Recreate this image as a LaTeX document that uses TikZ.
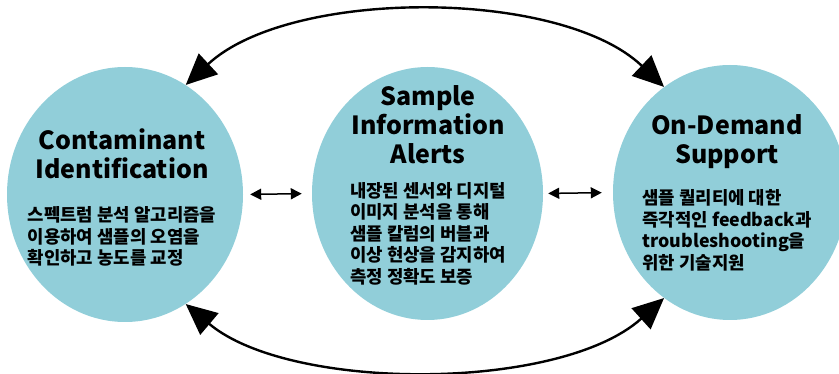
\documentclass[tikz,border=0pt]{standalone}
\usepackage{fontspec}
\setmainfont{Noto Sans CJK KR}
\usetikzlibrary{arrows.meta,positioning,shapes.geometric}
\definecolor{bubble}{RGB}{145,206,217}

\begin{document}
\begin{tikzpicture}[x=1pt,y=-1pt,
  circ/.style={ellipse,fill=bubble,inner sep=0pt,minimum width=236pt,minimum height=255pt},
  ttl/.style={font=\bfseries\fontsize{25}{29}\selectfont,align=center,inner sep=0pt},
  body/.style={font=\bfseries\fontsize{17.8}{21.5}\selectfont,align=left,inner sep=0pt},
  bigarr/.style={{Triangle[length=31pt,width=28pt]}-{Triangle[length=31pt,width=28pt]},line width=2.4pt},
  smallarr/.style={{Triangle[length=11pt,width=11pt]}-{Triangle[length=11pt,width=11pt]},line width=1.5pt}]
  \useasboundingbox (0,0) rectangle (839,374);
  \node[circ] (cont) at (125,194.5) {};
  \node[circ,minimum width=231pt,minimum height=253pt] (info) at (427.5,193.5) {};
  \node[circ,minimum width=234pt] (supp) at (730,192.5) {};
  \node[ttl] (ct) at (122,154) {Contaminant\\Identification};
  \node[body,below=27pt of ct] (cb) {스펙트럼 분석 알고리즘을\\이용하여 샘플의 오염을\\확인하고 농도를 교정};
  \node[ttl] (it) at (428,124.5) {Sample\\Information\\Alerts};
  \node[body,below=18pt of it] (ib) {내장된 센서와 디지털\\이미지 분석을 통해\\샘플 칼럼의 버블과\\이상 현상을 감지하여\\측정 정확도 보증};
  \node[ttl] (st) at (727,142) {On-Demand\\Support};
  \node[body,below=20pt of st] (sb) {샘플 퀄리티에 대한\\즉각적인 feedback과\\troubleshooting을\\위한 기술지원};
  \draw[bigarr] (cont.61) .. controls (290,-12) and (560,-12) .. (supp.122);
  \draw[bigarr] (cont.-61) .. controls (290,392) and (560,392) .. (supp.-122);
  \draw[smallarr,shorten <=7pt,shorten >=10pt] (cont.east) -- (info.west);
  \draw[smallarr,shorten <=5pt,shorten >=11pt] (info.east) -- (supp.west);
\end{tikzpicture}
\end{document}
